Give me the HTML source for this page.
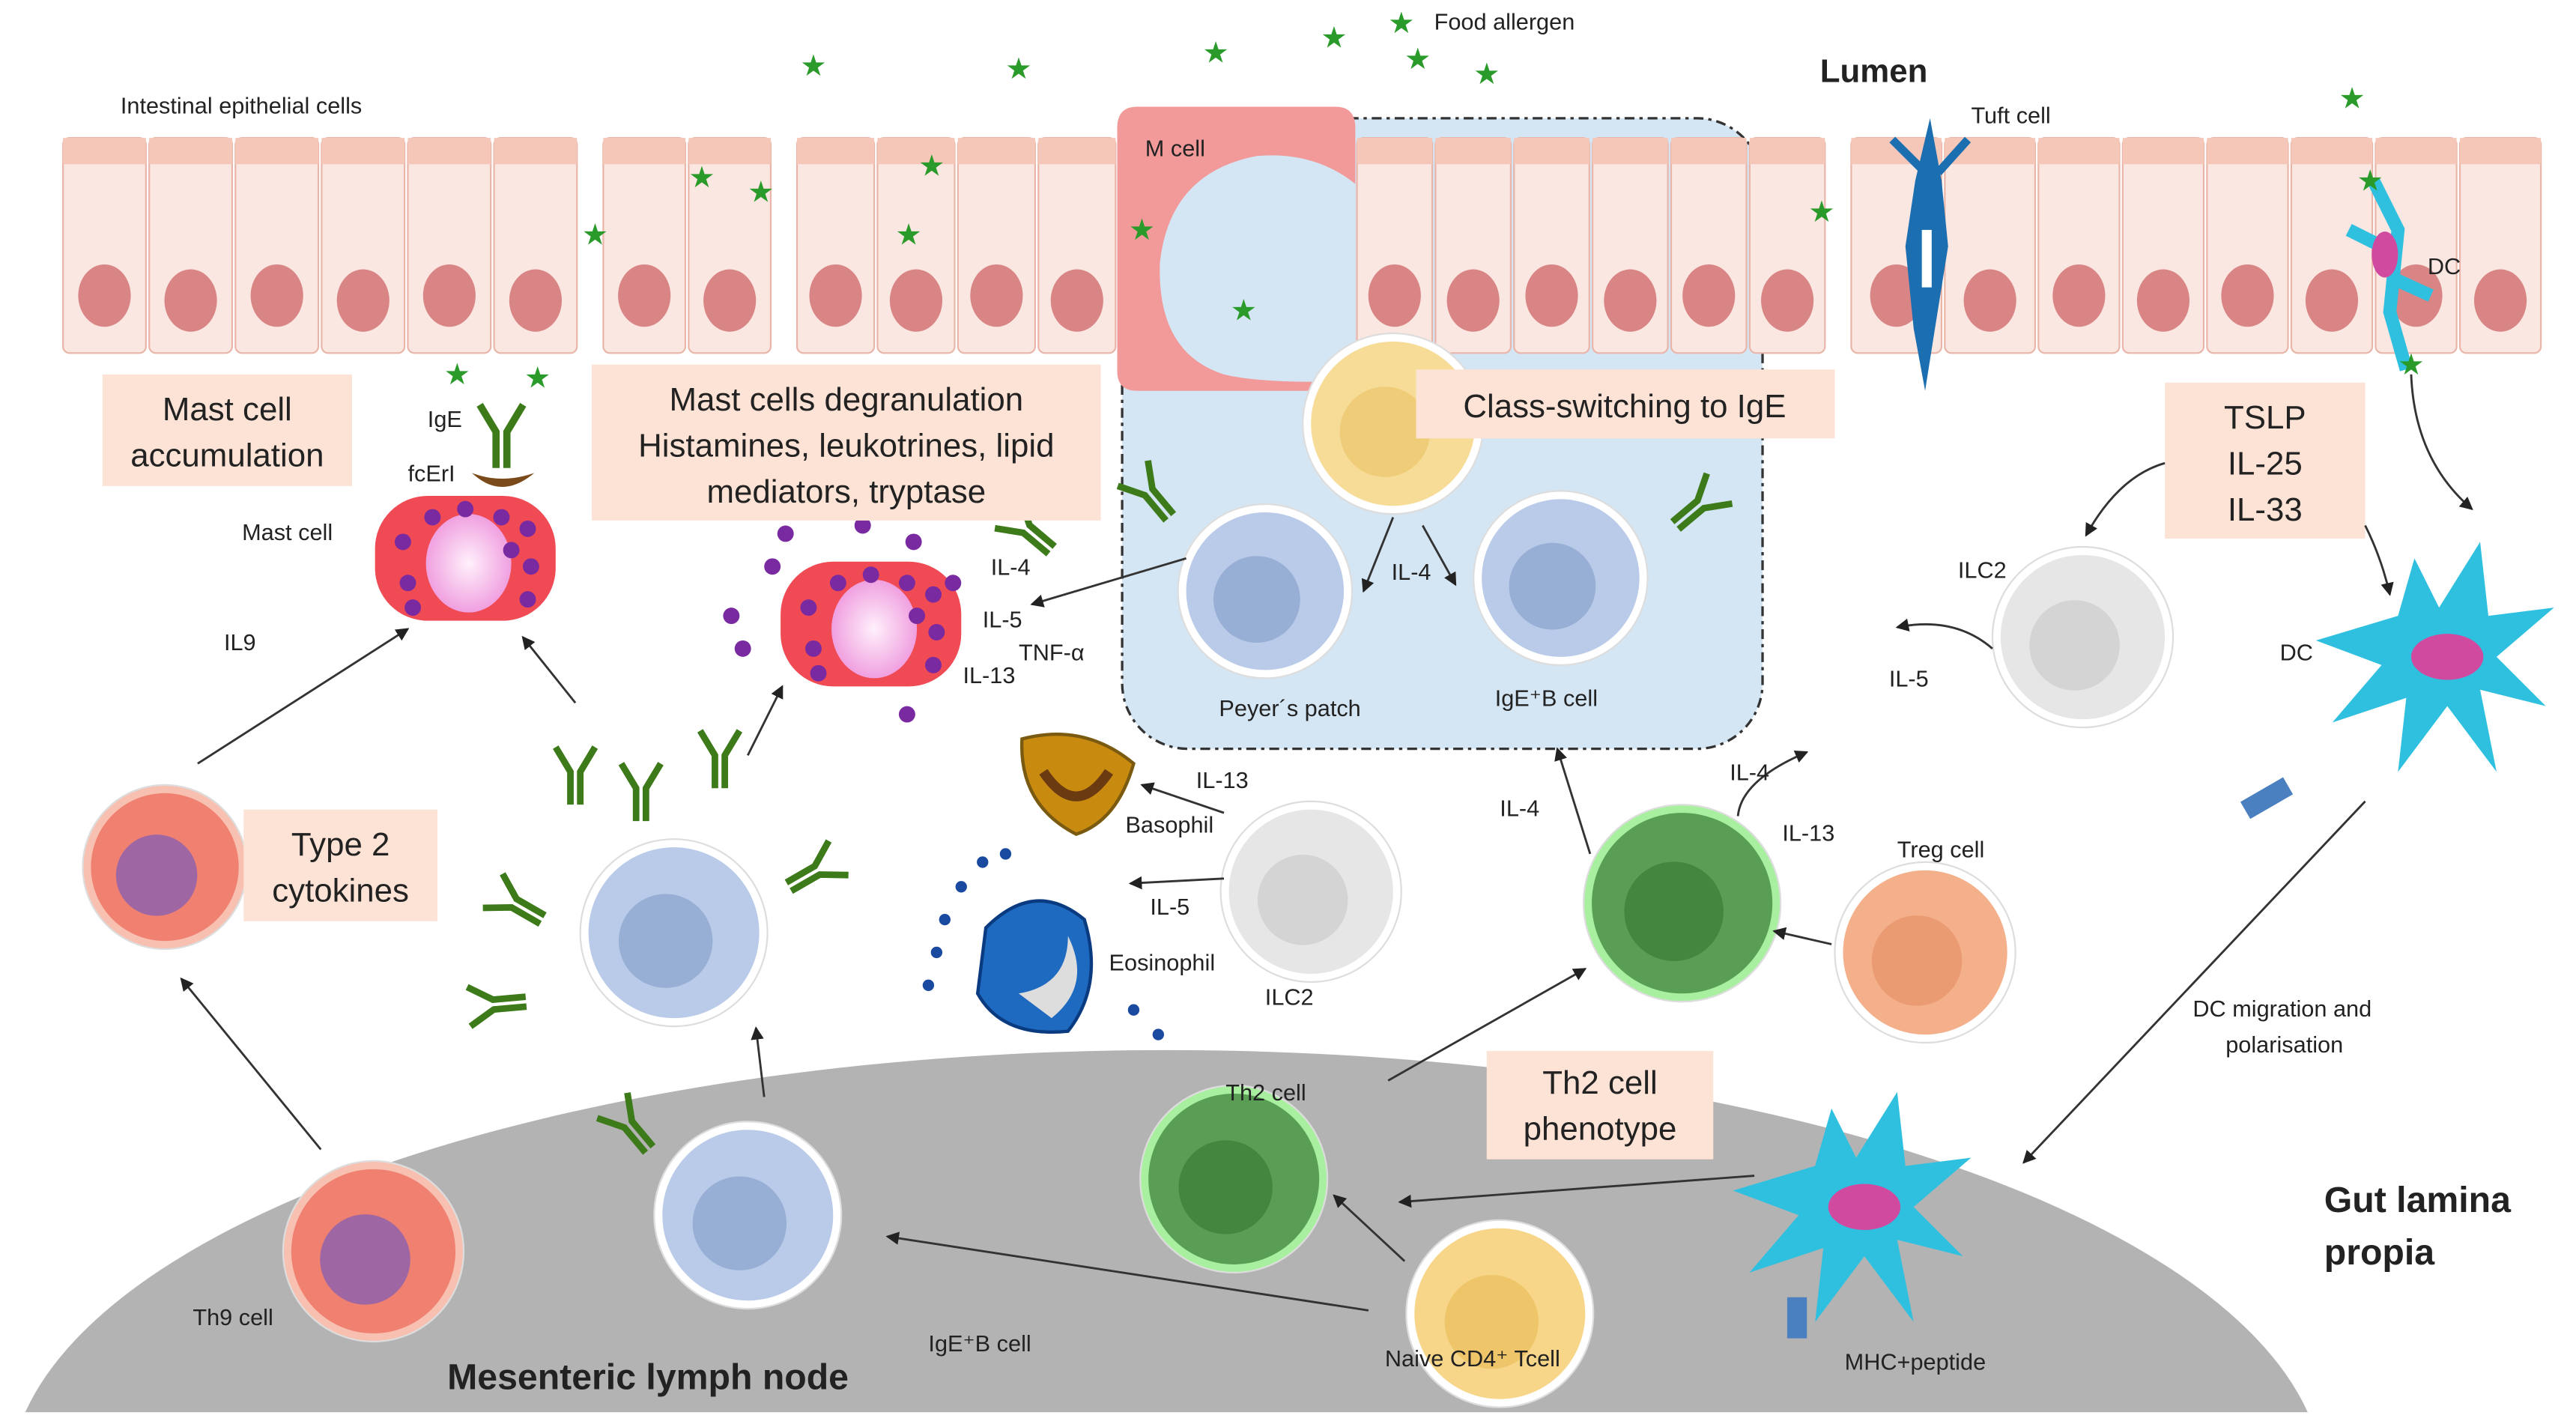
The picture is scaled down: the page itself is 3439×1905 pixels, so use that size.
<!DOCTYPE html>
<html><head><meta charset="utf-8"><style>
html,body{margin:0;padding:0;background:#fff;width:3439px;height:1905px;overflow:hidden;}
svg{display:block;}
text{font-family:"Liberation Sans",sans-serif;fill:#222;}
.s{font-size:14px;}
.b{font-size:20px;}
.bb{font-size:22px;font-weight:bold;}
</style></head><body>
<svg id="sv" width="3439" height="1905" viewBox="0 0 1568 869" xmlns="http://www.w3.org/2000/svg">
<defs>
<marker id="ar" markerWidth="8" markerHeight="8" refX="7" refY="4" orient="auto" markerUnits="userSpaceOnUse"><path d="M0,0 L8,4 L0,8 z" fill="#222"/></marker>
<radialGradient id="pk"><stop offset="0" stop-color="#fff0fb"/><stop offset="1" stop-color="#f0a0e0"/></radialGradient>
</defs>
<path d="M15,860 A705,265 0 0 1 1405,860 Z" fill="#b3b3b3"/>
<rect x="683" y="72" width="390" height="384" rx="40" fill="#d4e6f4" stroke="#333" stroke-dasharray="6,3,2,3" stroke-width="1.5"/>
<g id="epi"></g>
<path d="M692,65 H813 Q825,65 825,78 V238 H692 Q680,238 680,226 V78 Q680,65 692,65z" fill="#f29a9a"/>
<path d="M825,112 Q800,92 765,95 Q712,105 706,160 Q704,215 745,228 Q770,234 825,232z" fill="#d4e6f4"/>
<text class="s" x="697" y="95">M cell</text>
<g id="cells"></g>
<g id="abs"></g>
<rect x="62" y="228" width="152" height="68" fill="#fde3d5"/>
<text class="b" x="138" y="256" text-anchor="middle">Mast cell</text>
<text class="b" x="138" y="284" text-anchor="middle">accumulation</text>
<rect x="360" y="222" width="310" height="95" fill="#fde3d5"/>
<text class="b" x="515" y="250" text-anchor="middle">Mast cells degranulation</text>
<text class="b" x="515" y="278" text-anchor="middle">Histamines, leukotrines, lipid</text>
<text class="b" x="515" y="306" text-anchor="middle">mediators, tryptase</text>
<rect x="862" y="225" width="255" height="42" fill="#fde3d5"/>
<text class="b" x="989" y="254" text-anchor="middle">Class-switching to IgE</text>
<rect x="1318" y="233" width="122" height="95" fill="#fde3d5"/>
<text class="b" x="1379" y="261" text-anchor="middle">TSLP</text>
<text class="b" x="1379" y="289" text-anchor="middle">IL-25</text>
<text class="b" x="1379" y="317" text-anchor="middle">IL-33</text>
<rect x="148" y="493" width="118" height="68" fill="#fde3d5"/>
<text class="b" x="207" y="521" text-anchor="middle">Type 2</text>
<text class="b" x="207" y="549" text-anchor="middle">cytokines</text>
<rect x="905" y="640" width="138" height="66" fill="#fde3d5"/>
<text class="b" x="974" y="666" text-anchor="middle">Th2 cell</text>
<text class="b" x="974" y="694" text-anchor="middle">phenotype</text>
<g stroke="#333" stroke-width="1.3" fill="none" marker-end="url(#ar)">
<line x1="120" y1="465" x2="248" y2="383"/>
<line x1="350" y1="428" x2="318" y2="388"/>
<line x1="455" y1="460" x2="476" y2="418"/>
<line x1="722" y1="340" x2="628" y2="368"/>
<line x1="848" y1="315" x2="830" y2="360"/>
<line x1="866" y1="320" x2="886" y2="356"/>
<line x1="195" y1="700" x2="110" y2="596"/>
<line x1="465" y1="668" x2="460" y2="626"/>
<line x1="745" y1="495" x2="695" y2="478"/>
<line x1="745" y1="535" x2="688" y2="538"/>
<line x1="845" y1="658" x2="965" y2="590"/>
<line x1="968" y1="520" x2="948" y2="456"/>
<path d="M1058,497 Q1060,475 1100,458"/>
<line x1="1115" y1="575" x2="1080" y2="567"/>
<path d="M1213,395 Q1190,375 1155,382"/>
<path d="M1318,282 Q1290,290 1270,326"/>
<path d="M1440,320 Q1450,340 1455,362"/>
<path d="M1468,228 Q1470,280 1505,310"/>
<line x1="1440" y1="488" x2="1232" y2="708"/>
<line x1="1068" y1="716" x2="852" y2="732"/>
<line x1="855" y1="768" x2="812" y2="728"/>
<line x1="833" y1="798" x2="540" y2="753"/>
</g>
<text class="s" x="73" y="69">Intestinal epithelial cells</text>
<text class="s" x="873" y="18">Food allergen</text>
<text class="bb" x="1108" y="50" style="font-size:20px">Lumen</text>
<text class="s" x="1200" y="75">Tuft cell</text>
<text class="s" x="1478" y="167">DC</text>
<text class="s" x="260" y="260">IgE</text>
<text class="s" x="248" y="293">fcErI</text>
<text class="s" x="147" y="329">Mast cell</text>
<text class="s" x="136" y="396">IL9</text>
<text class="s" x="603" y="350">IL-4</text>
<text class="s" x="598" y="382">IL-5</text>
<text class="s" x="620" y="402">TNF-α</text>
<text class="s" x="586" y="416">IL-13</text>
<text class="s" x="847" y="353">IL-4</text>
<text class="s" x="742" y="436">Peyer´s patch</text>
<text class="s" x="910" y="430">IgE⁺B cell</text>
<text class="s" x="1192" y="352">ILC2</text>
<text class="s" x="1150" y="418">IL-5</text>
<text class="s" x="1388" y="402">DC</text>
<text class="s" x="728" y="480">IL-13</text>
<text class="s" x="685" y="507">Basophil</text>
<text class="s" x="700" y="557">IL-5</text>
<text class="s" x="675" y="591">Eosinophil</text>
<text class="s" x="770" y="612">ILC2</text>
<text class="s" x="913" y="497">IL-4</text>
<text class="s" x="1053" y="475">IL-4</text>
<text class="s" x="1085" y="512">IL-13</text>
<text class="s" x="1155" y="522">Treg cell</text>
<text class="s" x="1335" y="619">DC migration and</text>
<text class="s" x="1355" y="641">polarisation</text>
<text class="s" x="746" y="670">Th2 cell</text>
<text class="bb" x="1415" y="738">Gut lamina</text>
<text class="bb" x="1415" y="770">propia</text>
<text class="s" x="117" y="807">Th9 cell</text>
<text class="s" x="565" y="823">IgE⁺B cell</text>
<text class="s" x="843" y="832">Naive CD4⁺ Tcell</text>
<text class="s" x="1123" y="834">MHC+peptide</text>
<text class="bb" x="272" y="846">Mesenteric lymph node</text>
</svg>
<script>
const NS="http://www.w3.org/2000/svg";
function el(t,a,p){const e=document.createElementNS(NS,t);for(const k in a)e.setAttribute(k,a[k]);(p||document.getElementById('cells')).appendChild(e);return e;}
const epi=document.getElementById('epi');
function block(x0,x1,n){const w=(x1-x0)/n;
 for(let i=0;i<n;i++){const x=x0+i*w;
  el('rect',{x:x+1,y:84,width:w-2,height:131,rx:4,fill:'#fbe7e1',stroke:'#e9b5a8','stroke-width':1},epi);
  el('rect',{x:x+1,y:84,width:w-2,height:16,fill:'#f5c7b8'},epi);
  el('ellipse',{cx:x+w/2,cy:180+(i%2)*3,rx:16,ry:19,fill:'#d98585'},epi);}}
block(37,352,6);block(366,470,2);block(484,680,4);block(825,1112,6);block(1126,1240,2);block(1240,1548,6);
el('path',{d:'M1175,72 L1182,110 L1186,150 L1178,200 L1172,238 L1165,200 L1160,150 L1166,110z',fill:'#1b6fb0'},epi);
el('path',{d:'M1152,85 L1172,105 M1198,85 L1180,105',stroke:'#1b6fb0','stroke-width':5},epi);
el('rect',{x:1170,y:140,width:6,height:35,fill:'#fff'},epi);
function cell(cx,cy,r,fill,nuc,ring){
 el('circle',{cx,cy,r:r+5,fill:ring||'#fff',stroke:'#ddd','stroke-width':1});
 el('circle',{cx,cy,r,fill});
 el('circle',{cx:cx-5,cy:cy+5,r:r*0.55,fill:nuc,opacity:0.8});}
cell(848,258,50,'#f7dc98','#ecc870');
cell(770,360,48,'#b9cbe8','#8ea8d0');
cell(950,352,48,'#b9cbe8','#8ea8d0');
cell(1268,388,50,'#e6e6e6','#d0d0d0');
cell(100,528,45,'#f08070','#8a60b0','#f8c0b0');
cell(410,568,52,'#b9cbe8','#8ea8d0');
cell(798,543,50,'#e6e6e6','#d0d0d0');
cell(1024,550,55,'#5a9e55','#3e7e3a','#a8f0a0');
cell(1172,580,50,'#f4b08a','#e8966a');
cell(751,718,52,'#5a9e55','#3e7e3a','#a8f0a0');
cell(913,800,52,'#f7d68a','#ecc060');
cell(455,740,52,'#b9cbe8','#8ea8d0');
cell(227,762,50,'#f08070','#8a60b0','#f8c0b0');
function mast(cx,cy){el('rect',{x:cx-55,y:cy-38,width:110,height:76,rx:32,fill:'#f04a55'});
 el('ellipse',{cx:cx+2,cy:cy+3,rx:26,ry:30,fill:'url(#pk)'});
 [[-38,-10],[-35,15],[-20,-25],[0,-30],[22,-25],[38,-18],[40,5],[38,25],[-32,30],[28,-5]].forEach(p=>el('circle',{cx:cx+p[0],cy:cy+p[1],r:5,fill:'#7a2aa0'}));}
mast(283,340);mast(530,380);
[[445,375],[452,395],[470,345],[478,325],[552,435],[580,355],[556,330],[525,320]].forEach(p=>el('circle',{cx:p[0],cy:p[1],r:5,fill:'#7a2aa0'}));
el('path',{d:'M287,288 Q305,305 325,288 Q305,295 287,288z',fill:'#7a4a1a'});
el('path',{d:'M622,450 Q660,440 690,465 Q680,500 655,508 Q620,490 622,450z',fill:'#c98a10',stroke:'#7a5a10','stroke-width':2});
el('path',{d:'M635,470 Q655,500 675,470',stroke:'#6a3a10','stroke-width':6,fill:'none'});
el('path',{d:'M600,565 Q630,535 660,560 Q672,600 650,628 Q610,632 595,605z',fill:'#1e6ac0',stroke:'#0a3a80','stroke-width':2});
el('path',{d:'M620,605 Q650,600 650,570 Q665,600 640,620z',fill:'#ddd'});
[[570,580],[575,560],[585,540],[598,525],[612,520],[565,600],[705,630],[690,615]].forEach(p=>el('circle',{cx:p[0],cy:p[1],r:3.5,fill:'#1a4aa0'}));
const abs=document.getElementById('abs');
function ab(x,y,ang,s){const g=el('g',{transform:`translate(${x},${y}) rotate(${ang}) scale(${s||1})`,stroke:'#3c7a1a','stroke-width':4,fill:'none'},abs);
 el('path',{d:'M-3,0 V-20 L-12,-35 M3,0 V-20 L12,-35'},g);}
ab(305,285,0,1.1);ab(350,490,0);ab(390,500,0);ab(438,480,0);ab(330,560,-60);ab(320,610,-95);ab(480,540,60);ab(395,700,-40);ab(640,335,-50);ab(712,315,-40);ab(1020,320,50);
function dc(cx,cy,s){const g=el('g',{transform:`translate(${cx},${cy}) scale(${s})`});
 el('path',{d:'M-70,-10 L-20,-25 L-10,-60 L5,-30 L30,-70 L35,-25 L75,-30 L40,0 L70,30 L30,20 L40,70 L10,30 L-20,70 L-15,25 L-60,40 L-30,5z',fill:'#2fc0e0'},g);
 el('ellipse',{cx:10,cy:0,rx:22,ry:14,fill:'#d04aa0'},g);}
dc(1480,400,1);dc(1125,735,1);
el('path',{d:'M1445,110 L1460,140 L1455,190 L1465,225 M1450,150 L1430,140 M1458,170 L1480,180',stroke:'#2fc0e0','stroke-width':8,fill:'none'});
el('ellipse',{cx:1452,cy:155,rx:8,ry:14,fill:'#d04aa0'});
el('rect',{x:1365,y:480,width:30,height:12,fill:'#4a80c0',transform:'rotate(-30 1380 486)'});
el('rect',{x:1088,y:790,width:12,height:25,fill:'#4a80c0'});
[[495,40],[620,42],[740,32],[812,23],[853,14],[863,36],[905,45],[427,108],[463,117],[567,101],[553,143],[362,143],[695,140],[757,189],[1109,129],[1432,60],[1443,110],[1468,222],[278,228],[327,230]].forEach(p=>{
 el('text',{x:p[0],y:p[1]+6,'text-anchor':'middle','font-size':'18',style:'fill:#2a9a2a'}).textContent='★';});
</script>
</body></html>
